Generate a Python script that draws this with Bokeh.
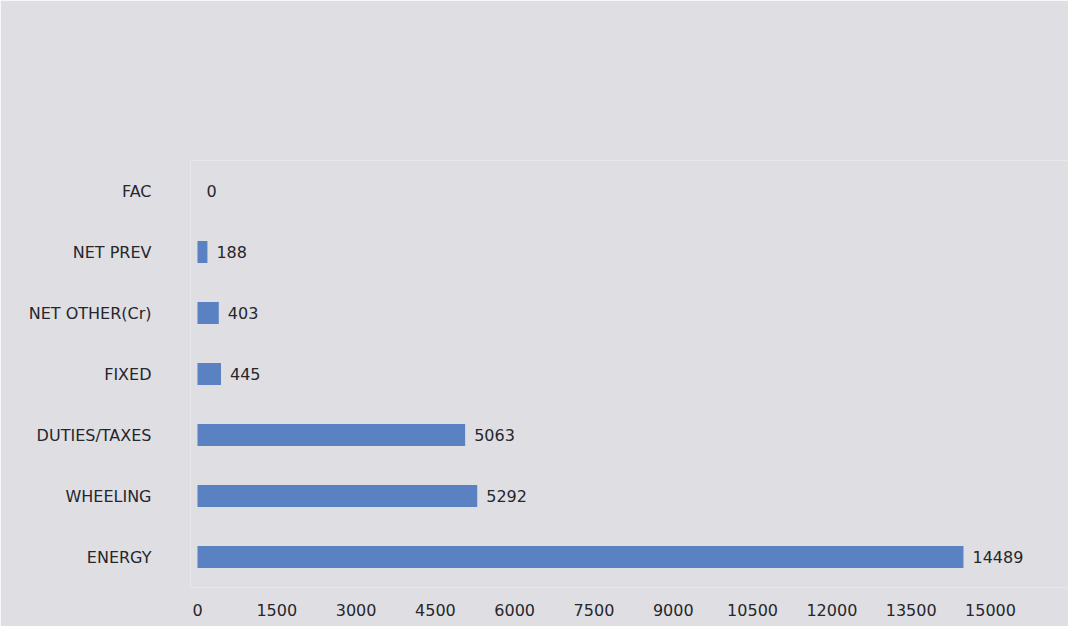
from bokeh.plotting import figure
from bokeh.models import Range1d, ColumnDataSource, FixedTicker
from bokeh.core.properties import value
from bokeh.embed import file_html
from bokeh.resources import INLINE

categories = ["ENERGY", "WHEELING", "DUTIES/TAXES", "FIXED", "NET OTHER(Cr)", "NET PREV", "FAC"]
values = [14489, 5292, 5063, 445, 403, 188, 0]
ticks = [0, 1500, 3000, 4500, 6000, 7500, 9000, 10500, 12000, 13500, 15000]

src = ColumnDataSource(dict(cat=categories, val=values, lab=[str(v) for v in values]))

bg = "#dfdfe3"
txt = "#26262c"
p = figure(width=1068, height=626, y_range=categories, x_range=Range1d(-132, 16476),
           output_backend="svg", toolbar_location=None,
           min_border_left=190, min_border_right=0, min_border_top=160, min_border_bottom=39)
p.y_range.range_padding = 0
p.background_fill_color = bg
p.border_fill_color = bg
p.outline_line_color = None
p.xgrid.grid_line_color = None
p.ygrid.grid_line_color = None

p.hbar(y="cat", right="val", left=0, height=0.36, source=src,
       fill_color="#5a82c2", line_color=None)
p.text(x="val", y="cat", text="lab", source=src, x_offset=9,
       text_baseline="middle", text_align="left", text_font_size="16px",
       text_color=txt, text_font=value("DejaVu Sans"))

for ax in (p.xaxis[0], p.yaxis[0]):
    ax.axis_line_color = None
    ax.major_tick_line_color = None
    ax.minor_tick_line_color = None
    ax.major_label_text_font = "DejaVu Sans"
    ax.major_label_text_font_size = "16px"
    ax.major_label_text_color = txt

p.xaxis.ticker = FixedTicker(ticks=ticks)
p.xaxis.major_label_standoff = 10
p.yaxis.major_label_standoff = 33

open("out.html", "w").write(file_html(p, INLINE))
